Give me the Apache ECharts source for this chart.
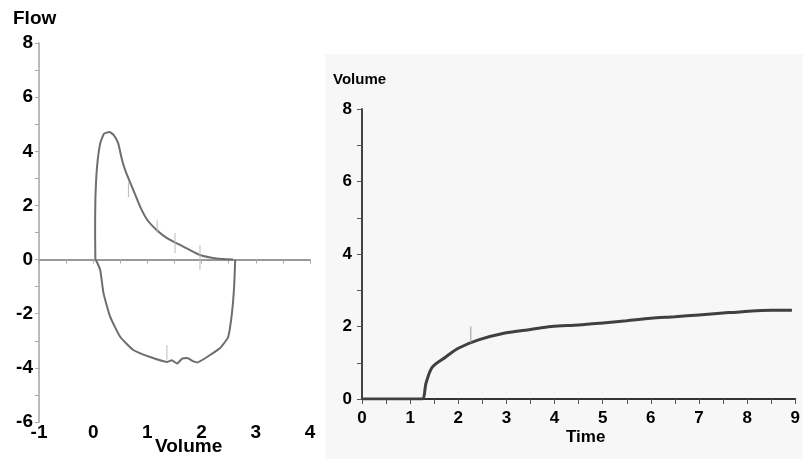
<!DOCTYPE html>
<html><head><meta charset="utf-8">
<script src="https://cdn.jsdelivr.net/npm/echarts@6/dist/echarts.min.js"></script>
<style>html,body{margin:0;padding:0;background:#fff}#c{width:803px;height:459px}</style>
</head><body><div id="c"></div>
<script>
// Flow-volume loop (left)
const expVolume = [0.04,0.035,0.04,0.07,0.13,0.20,0.30,0.38,0.46,0.53,0.60,0.74,0.87,1.00,1.17,1.32,1.48,1.73,1.97,2.28,2.58];
const expFlow   = [0.0, 1.0, 2.2, 3.4, 4.3, 4.65,4.71,4.6, 4.3, 3.7, 3.25,2.57,1.94,1.46,1.09,0.85,0.66,0.41,0.17,0.04,0.0];
const insVolume = [0.04,0.07,0.13,0.19,0.31,0.50,0.74,1.05,1.36,1.45,1.55,1.64,1.73,1.85,1.92,2.10,2.34,2.49,2.56,2.60,2.62];
const insFlow   = [0.0,-0.1,-0.39,-1.24,-2.1,-2.86,-3.34,-3.6,-3.78,-3.72,-3.84,-3.66,-3.64,-3.76,-3.8,-3.6,-3.27,-2.86,-1.98,-1.0,0.0];
const loopMarkers = [[0.65,2.85,2.3],[1.18,1.45,1.0],[1.51,0.98,0.24],[1.97,0.54,-0.39],[1.36,-3.16,-3.7]];
const flowTicks = [-6,-4,-2,0,2,4,6,8];
const volTicks = [-1,0,1,2,3,4];
// Volume-time curve (right)
const timeVals = [0,0.5,1.0,1.25,1.33,1.46,1.74,2.0,2.42,2.97,3.5,3.93,4.5,4.95,5.5,6.0,6.5,7.0,7.5,7.9,8.5,8.93];
const volVals  = [0,0,0,0,0.44,0.88,1.16,1.4,1.63,1.82,1.92,2.0,2.04,2.09,2.16,2.23,2.27,2.32,2.37,2.41,2.45,2.45];
const timeMarkers = [[2.26,2.0,1.55]];
const timeTicks = [0,1,2,3,4,5,6,7,8,9];
const volumeTicks = [0,2,4,6,8];

const FAMILY = '"Liberation Sans", Arial, sans-serif';
const lblL = {fontFamily:FAMILY,fontWeight:'bold',fontSize:19,color:'#000'};
const lblR = {fontFamily:FAMILY,fontWeight:'bold',fontSize:17,color:'#000'};

function zip(a,b){return a.map((v,i)=>[v,b[i]]);}
const markerSeries = (arr,xi,yi,color,w)=>arr.map(m=>({type:'line',xAxisIndex:xi,yAxisIndex:yi,data:[[m[0],m[1]],[m[0],m[2]]],symbol:'none',lineStyle:{color:color,width:w},silent:true}));

const chart = echarts.init(document.getElementById('c'),null,{renderer:'canvas'});
chart.setOption({
  animation:false,
  backgroundColor:'#fff',
  graphic:[
    {type:'rect',z:-10,shape:{x:325,y:54,width:478,height:405},style:{fill:'#f7f7f7'}},
    {type:'text',left:13,top:9,style:{text:'Flow',font:'bold 19px '+FAMILY,fill:'#000'}},
    {type:'text',left:155,top:437,style:{text:'Volume',font:'bold 19px '+FAMILY,fill:'#000'}},
    {type:'text',left:333,top:72,style:{text:'Volume',font:'bold 15px '+FAMILY,fill:'#000'}},
    {type:'text',left:566,top:429,style:{text:'Time',font:'bold 17px '+FAMILY,fill:'#000'}}
  ],
  grid:[
    {left:39,top:43,width:271,height:379,containLabel:false},
    {left:362,top:109,width:438,height:290,containLabel:false}
  ],
  xAxis:[
    {gridIndex:0,type:'value',min:volTicks[0],max:volTicks[volTicks.length-1],interval:1,
     axisLine:{onZero:true,lineStyle:{color:'#999',width:2}},
     axisTick:{show:true,inside:false,length:4,lineStyle:{color:'#aaa'}},
     minorTick:{show:true,splitNumber:2,length:4,lineStyle:{color:'#aaa'}},
     axisLabel:{show:false},splitLine:{show:false}},
    {gridIndex:0,type:'value',min:volTicks[0],max:volTicks[volTicks.length-1],interval:1,position:'bottom',
     axisLine:{show:false,onZero:false},axisTick:{show:false},splitLine:{show:false},
     axisLabel:Object.assign({margin:1},lblL)},
    {gridIndex:1,type:'value',min:timeTicks[0],max:timeTicks[timeTicks.length-1],interval:1,
     axisLine:{onZero:false,lineStyle:{color:'#333',width:2}},
     axisTick:{show:true,length:5,lineStyle:{color:'#555'}},
     minorTick:{show:true,splitNumber:2,length:5,lineStyle:{color:'#555'}},
     splitLine:{show:false},
     axisLabel:Object.assign({margin:11},lblR)}
  ],
  yAxis:[
    {gridIndex:0,type:'value',min:flowTicks[0],max:flowTicks[flowTicks.length-1],interval:2,
     axisLine:{onZero:false,lineStyle:{color:'#bbb',width:2}},
     axisTick:{show:true,length:4,lineStyle:{color:'#aaa'}},
     minorTick:{show:true,splitNumber:2,length:4,lineStyle:{color:'#aaa'}},
     splitLine:{show:false},
     axisLabel:Object.assign({margin:6},lblL)},
    {gridIndex:1,type:'value',min:volumeTicks[0],max:volumeTicks[volumeTicks.length-1],interval:2,
     axisLine:{onZero:false,lineStyle:{color:'#444',width:2}},
     axisTick:{show:true,length:5,lineStyle:{color:'#555'}},
     minorTick:{show:true,splitNumber:2,length:5,lineStyle:{color:'#555'}},
     splitLine:{show:false},
     axisLabel:Object.assign({margin:10},lblR)}
  ],
  series:[
    {type:'line',xAxisIndex:0,yAxisIndex:0,data:zip(expVolume,expFlow),symbol:'none',smooth:0.15,lineStyle:{color:'#6e6e6e',width:2}},
    {type:'line',xAxisIndex:0,yAxisIndex:0,data:zip(insVolume,insFlow),symbol:'none',smooth:0.15,lineStyle:{color:'#6e6e6e',width:2}},
    {type:'line',xAxisIndex:2,yAxisIndex:1,data:zip(timeVals,volVals),symbol:'none',smooth:0.3,lineStyle:{color:'#404040',width:3}}
  ].concat(markerSeries(loopMarkers,0,0,'#bbb',1)).concat(markerSeries(timeMarkers,2,1,'#999',1))
});
</script></body></html>
